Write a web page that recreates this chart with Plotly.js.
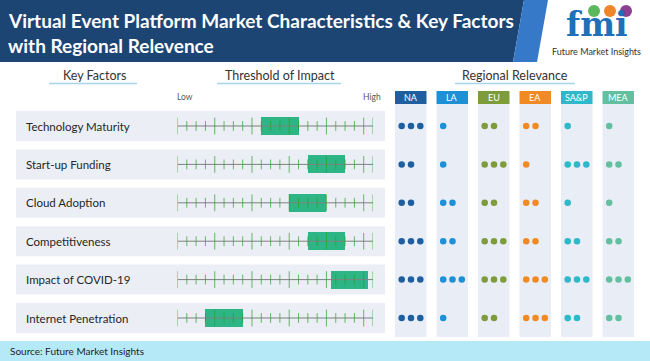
<!DOCTYPE html>
<html>
<head>
<meta charset="utf-8">
<script src="https://cdn.plot.ly/plotly-3.0.1.min.js"></script>
<style>html,body{margin:0;padding:0;background:#fff;}#chart{width:650px;height:361px;}</style>
</head>
<body>
<div id="chart"></div>
<script>
// ---------- DATA ----------
const FACTORS = ['Technology Maturity', 'Start-up Funding', 'Cloud Adoption', 'Competitiveness', 'Impact of COVID-19', 'Internet Penetration'];
const IMPACT_LOW  = [9, 14, 12, 14, 16.5, 3];
const IMPACT_HIGH = [13, 18, 16, 18, 20.5, 7];
const SCALE_STEPS = 21;
const REGIONS = ['NA', 'LA', 'EU', 'EA', 'SA&P', 'MEA'];
const NA_DOTS  = [3, 2, 2, 3, 3, 3];
const LA_DOTS  = [1, 1, 2, 2, 3, 1];
const EU_DOTS  = [2, 3, 2, 3, 3, 2];
const EA_DOTS  = [2, 1, 2, 2, 3, 3];
const SAP_DOTS = [1, 3, 1, 2, 3, 2];
const MEA_DOTS = [1, 2, 1, 2, 3, 2];
const REGION_DOTS = [NA_DOTS, LA_DOTS, EU_DOTS, EA_DOTS, SAP_DOTS, MEA_DOTS];
const REGION_COLORS = ['#1f5fa0', '#1e90d6', '#7f9c3c', '#f28a24', '#2fb8c9', '#62c0a0'];

// ---------- helpers ----------
const W = 650, H = 361;
const px = v => v / W;
const py = v => 1 - v / H;
const FONT = 'Lato, "Noto Sans", sans-serif';

// y axis: row i centre at pixel 126 + 38.4*i
const ROW0 = 126, ROWSTEP = 38.4;
const yTop = -ROW0 / ROWSTEP, yBot = (H - ROW0) / ROWSTEP;
// region axis: region j first dot at pixel 401.7 + 41.5*j
const REG0 = 401.7, REGSTEP = 41.5;
const DOTSTEP = 9.3 / REGSTEP;

const traces = [];

// ruler baseline
const baseX = [], baseY = [];
FACTORS.forEach((f, i) => { baseX.push(0, SCALE_STEPS, null); baseY.push(i, i, null); });
traces.push({type: 'scatter', mode: 'lines', x: baseX, y: baseY, xaxis: 'x', yaxis: 'y',
  line: {color: '#808080', width: 1}, hoverinfo: 'skip'});

// impact boxes
traces.push({type: 'bar', orientation: 'h', y: FACTORS.map((f, i) => i),
  base: IMPACT_LOW, x: IMPACT_HIGH.map((h, i) => h - IMPACT_LOW[i]),
  width: 0.47, marker: {color: '#2db585', line: {width: 0}}, xaxis: 'x', yaxis: 'y', hoverinfo: 'skip'});

// ruler ticks
const tx = [], ty = [], ts = [];
FACTORS.forEach((f, i) => {
  for (let t = 0; t <= SCALE_STEPS; t++) {
    tx.push(t); ty.push(i);
    ts.push((t % 4 === 0 || t === SCALE_STEPS) ? 12 : 7);
  }
});
traces.push({type: 'scatter', mode: 'markers', x: tx, y: ty, xaxis: 'x', yaxis: 'y',
  marker: {symbol: 'line-ns-open', size: ts, line: {color: '#3c3c3c', width: 1}}, hoverinfo: 'skip'});

// regional relevance dots
REGIONS.forEach((r, j) => {
  const dx = [], dy = [];
  REGION_DOTS[j].forEach((n, i) => { for (let k = 0; k < n; k++) { dx.push(j + k * DOTSTEP); dy.push(i); } });
  traces.push({type: 'scatter', mode: 'markers', x: dx, y: dy, xaxis: 'x2', yaxis: 'y',
    marker: {color: REGION_COLORS[j], size: 6.5}, hoverinfo: 'skip'});
});

// ---------- shapes ----------
const shapes = [];
// header band
shapes.push({type: 'path', xref: 'paper', yref: 'paper', layer: 'below',
  path: `M0,${py(0)} L${px(524)},${py(0)} L${px(513)},${py(62)} L0,${py(62)} Z`,
  fillcolor: '#1d4574', line: {width: 0}});
shapes.push({type: 'path', xref: 'paper', yref: 'paper', layer: 'below',
  path: `M${px(524)},${py(0)} L${px(548)},${py(0)} L${px(537)},${py(62)} L${px(513)},${py(62)} Z`,
  fillcolor: '#3579c8', line: {width: 0}});
// source band
shapes.push({type: 'rect', xref: 'paper', yref: 'paper', layer: 'below',
  x0: 0, x1: 1, y0: py(361), y1: py(341), fillcolor: '#b5e9f8', line: {width: 0}});
// row bands
FACTORS.forEach((f, i) => {
  shapes.push({type: 'rect', xref: 'paper', yref: 'y', layer: 'below',
    x0: px(16), x1: px(385), y0: i - 15 / ROWSTEP, y1: i + 15 / ROWSTEP,
    fillcolor: '#ebeef5', line: {width: 0}});
});
// region columns and headers
REGIONS.forEach((r, j) => {
  const x0 = j - 6.7 / REGSTEP, x1 = j + 24.8 / REGSTEP;
  shapes.push({type: 'rect', xref: 'x2', yref: 'paper', layer: 'below',
    x0: x0, x1: x1, y0: py(337), y1: py(104), fillcolor: '#e9edf5', line: {width: 0}});
  shapes.push({type: 'rect', xref: 'x2', yref: 'paper', layer: 'below',
    x0: x0, x1: x1, y0: py(104), y1: py(91), fillcolor: REGION_COLORS[j], line: {width: 0}});
});
// column-title underlines
[[49, 137], [217, 341], [455, 575]].forEach(u => {
  shapes.push({type: 'line', xref: 'paper', yref: 'paper', x0: px(u[0]), x1: px(u[1]), y0: py(83.5), y1: py(83.5),
    line: {color: '#a8d4ee', width: 1.5}});
});
// logo circles
[['#5cb85c', 594], ['#f0862a', 610], ['#8b3f91', 626]].forEach(c => {
  shapes.push({type: 'circle', xref: 'paper', yref: 'paper',
    x0: px(c[1] - 6), x1: px(c[1] + 6), y0: py(17), y1: py(5), fillcolor: c[0], line: {width: 0}});
});

// ---------- annotations ----------
const ann = [];
ann.push({text: '<b>Virtual Event Platform Market Characteristics &amp; Key Factors</b>', xref: 'paper', yref: 'paper',
  x: px(6), y: py(20), xanchor: 'left', yanchor: 'middle', showarrow: false,
  font: {family: FONT, size: 19, color: '#ffffff'}});
ann.push({text: '<b>with Regional Relevence</b>', xref: 'paper', yref: 'paper',
  x: px(6), y: py(45), xanchor: 'left', yanchor: 'middle', showarrow: false,
  font: {family: FONT, size: 19, color: '#ffffff'}});
// logo text
ann.push({text: '<b>fmi</b>', xref: 'paper', yref: 'paper', x: px(597), y: py(24), xanchor: 'center', yanchor: 'middle',
  showarrow: false, font: {family: '"DejaVu Serif", serif', size: 33, color: '#1f70b8'}});
ann.push({text: 'Future Market Insights', xref: 'paper', yref: 'paper', x: px(596), y: py(52), xanchor: 'center', yanchor: 'middle',
  showarrow: false, font: {family: FONT, size: 9, color: '#333333'}});
// column titles
[['Key Factors', 94], ['Threshold of Impact', 280], ['Regional Relevance', 515]].forEach(t => {
  ann.push({text: t[0], xref: 'paper', yref: 'paper', x: px(t[1]), y: py(75), xanchor: 'center', yanchor: 'middle',
    showarrow: false, font: {family: FONT, size: 12.5, color: '#333333'}});
});
ann.push({text: 'Low', xref: 'paper', yref: 'paper', x: px(185), y: py(97), xanchor: 'center', yanchor: 'middle',
  showarrow: false, font: {family: FONT, size: 8.5, color: '#595959'}});
ann.push({text: 'High', xref: 'paper', yref: 'paper', x: px(372), y: py(97), xanchor: 'center', yanchor: 'middle',
  showarrow: false, font: {family: FONT, size: 8.5, color: '#595959'}});
// factor labels
FACTORS.forEach((f, i) => {
  ann.push({text: f, xref: 'paper', yref: 'y', x: px(24), y: i, xanchor: 'left', yanchor: 'middle',
    showarrow: false, font: {family: FONT, size: 11.5, color: '#262626'}});
});
// region header labels
REGIONS.forEach((r, j) => {
  ann.push({text: r.replace('&', '&amp;'), xref: 'x2', yref: 'paper', x: j + 9 / REGSTEP, y: py(97.5), xanchor: 'center', yanchor: 'middle',
    showarrow: false, font: {family: FONT, size: 9, color: '#ffffff'}});
});
ann.push({text: 'Source: Future Market Insights', xref: 'paper', yref: 'paper', x: px(8), y: py(351), xanchor: 'left', yanchor: 'middle',
  showarrow: false, font: {family: FONT, size: 10, color: '#222222'}});

const layout = {
  width: W, height: H, margin: {l: 0, r: 0, t: 0, b: 0, pad: 0},
  paper_bgcolor: '#ffffff', plot_bgcolor: 'rgba(0,0,0,0)', showlegend: false,
  xaxis: {domain: [px(177.5), px(373)], range: [0, SCALE_STEPS], visible: false, fixedrange: true},
  xaxis2: {domain: [0, 1], range: [-REG0 / REGSTEP, (W - REG0) / REGSTEP], visible: false, anchor: 'y', fixedrange: true},
  yaxis: {domain: [0, 1], range: [yBot, yTop], visible: false, fixedrange: true},
  shapes: shapes, annotations: ann, bargap: 0
};
Plotly.newPlot('chart', traces, layout, {staticPlot: true, displayModeBar: false});
</script>
</body>
</html>
